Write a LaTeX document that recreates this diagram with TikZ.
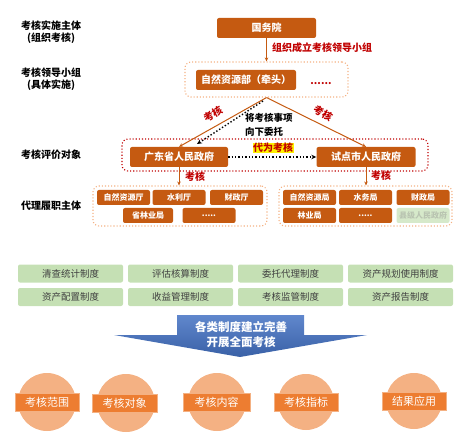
\documentclass[tikz,border=0pt]{standalone}
\usepackage{fontspec}
\setmainfont{Noto Sans CJK SC}
\usetikzlibrary{arrows.meta}
\definecolor{hdorange}{RGB}{197,90,17}
\definecolor{ltorange}{RGB}{244,177,131}
\definecolor{kborange}{RGB}{237,125,49}
\definecolor{krred}{RGB}{192,0,0}
\definecolor{ltgreen}{RGB}{197,224,180}
\definecolor{pgreen}{RGB}{214,233,202}
\definecolor{arblue}{RGB}{68,114,196}

\begin{document}
\begin{tikzpicture}[x=1pt,y=-1pt,
  brown/.style={fill=hdorange, rounded corners=2pt, text=white, inner sep=0pt, font=\bfseries\fontsize{10}{12}\selectfont},
  unit/.style={brown, minimum width=53pt, minimum height=15pt, font=\bfseries\fontsize{8}{9}\selectfont},
  zhidu/.style={fill=ltgreen, rounded corners=2pt, minimum width=105pt, minimum height=18pt, inner sep=0pt, text=black!75, font=\fontsize{9.5}{11}\selectfont},
  pin/.style={fill=kborange, draw=ltorange, line width=0.6pt, minimum width=64pt, minimum height=18pt, inner sep=0pt, text=white, font=\fontsize{11}{13}\selectfont},
  hint/.style={text=krred, inner sep=0pt, font=\bfseries\fontsize{10}{12}\selectfont},
  grp/.style={draw=ltorange, dotted, line width=1.1pt, rounded corners=6pt, inner sep=0pt},
  side/.style={align=center, inner sep=0pt, font=\bfseries\fontsize{10}{12.5}\selectfont},
  link/.style={draw=hdorange, line width=1pt, -{Stealth[length=4pt,width=3.5pt]}},
  dots/.style={draw=black, dotted, line width=1.4pt, -{Stealth[length=5pt,width=4.5pt]}}]
\useasboundingbox (0,0) rectangle (460,446);

\node[side] (s1) at (51,32) {考核实施主体\\(组织考核)};
\node[side] (s2) at (51,79) {考核领导小组\\(具体实施)};
\node[side] (s3) at (51,155) {考核评价对象};
\node[side] (s4) at (51,206) {代理履职主体};

\node[brown, minimum width=99pt, minimum height=20pt] (gwy) at (266.5,28) {国务院};
\node[grp, minimum width=163pt, minimum height=35pt] (team) at (266.5,79.5) {};
\node[brown, minimum width=100pt, minimum height=20pt] (zrb) at (246,80) {自然资源部（牵头）};
\node[hint] (more) at (321,84) {......};
\draw[link] (gwy) -- (team);
\node[hint, anchor=west] (zz) at (272,48) {组织成立考核领导小组};

\node[grp, draw=krred, minimum width=306pt, minimum height=32pt] (evalg) at (275,155) {};
\node[brown, minimum width=98pt, minimum height=20pt] (gd) at (179,157) {广东省人民政府};
\node[brown, minimum width=99pt, minimum height=20pt] (sd) at (366,157) {试点市人民政府};
\draw[link] (team.south) -- (gd.north);
\draw[link] (team.south) -- (sd.north);
\node[hint, rotate=31] (kh1) at (213,114) {考核};
\node[hint, rotate=-31] (kh2) at (323,113) {考核};
\coordinate (wt1) at (263,101);
\coordinate (wt2) at (197,144);
\draw[dots] (wt1) -- (wt2);
\node[side, anchor=west, align=left, font=\bfseries\fontsize{9.5}{14}\selectfont] (wt) at (245,125) {将考核事项\\向下委托};
\draw[dots] (gd) -- (sd);
\node[hint, fill=yellow, inner sep=0.5pt] (dw) at (273,148) {代为考核};

\node[grp, minimum width=174pt, minimum height=40pt] (prov) at (180,206) {};
\node[grp, minimum width=173pt, minimum height=40pt] (city) at (365.5,206) {};
\draw[link] (gd.south) -- (gd.south |- prov.north);
\draw[link] (sd.south) -- (sd.south |- city.north);
\node[hint] (kh3) at (195,177) {考核};
\node[hint] (kh4) at (381,176) {考核};

\node[unit] (p1) at (123.5,197.5) {自然资源厅};
\node[unit] (p2) at (179,197.5) {水利厅};
\node[unit] (p3) at (236.5,197.5) {财政厅};
\node[unit, minimum width=50pt] (p4) at (148,215.5) {省林业局};
\node[unit] (p5) at (209,215.5) {.....};
\node[unit] (c1) at (309.5,197.5) {自然资源局};
\node[unit] (c2) at (365.5,197.5) {水务局};
\node[unit] (c3) at (423,197.5) {财政局};
\node[unit] (c4) at (309.5,215.5) {林业局};
\node[unit] (c5) at (365.5,215.5) {.....};
\node[unit, fill=pgreen, text=ltgreen!70!black!60] (c6) at (423,215.5) {县级人民政府};

\node[zhidu] (z1) at (70.5,273.5) {清查统计制度};
\node[zhidu] (z2) at (180.5,273.5) {评估核算制度};
\node[zhidu] (z3) at (290.5,273.5) {委托代理制度};
\node[zhidu] (z4) at (400.5,273.5) {资产规划使用制度};
\node[zhidu] (z5) at (70.5,297) {资产配置制度};
\node[zhidu] (z6) at (180.5,297) {收益管理制度};
\node[zhidu] (z7) at (290.5,297) {考核监管制度};
\node[zhidu] (z8) at (400.5,297) {资产报告制度};

\shade[top color=arblue!85!white, bottom color=arblue!85!black] (177,315) -- (304,315) -- (304,335) -- (367,335) -- (240,357) -- (114,335) -- (177,335) -- cycle;
\node[align=center, text=white, inner sep=0pt, font=\bfseries\fontsize{11.5}{15}\selectfont] (qm) at (241,335) {各类制度建立完善\\开展全面考核};

\fill[ltorange] (47,402) circle (29);
\fill[ltorange] (126,403) circle (29);
\fill[ltorange] (217,402) circle (29);
\fill[ltorange] (306,402) circle (28);
\fill[ltorange] (414,401) circle (28);
\node[pin] (k1) at (47,402) {考核范围};
\node[pin, minimum width=65pt] (k2) at (124.5,403) {考核对象};
\node[pin, minimum width=67pt] (k3) at (216.5,402) {考核内容};
\node[pin] (k4) at (306,402.5) {考核指标};
\node[pin] (k5) at (414,401) {结果应用};
\end{tikzpicture}
\end{document}
